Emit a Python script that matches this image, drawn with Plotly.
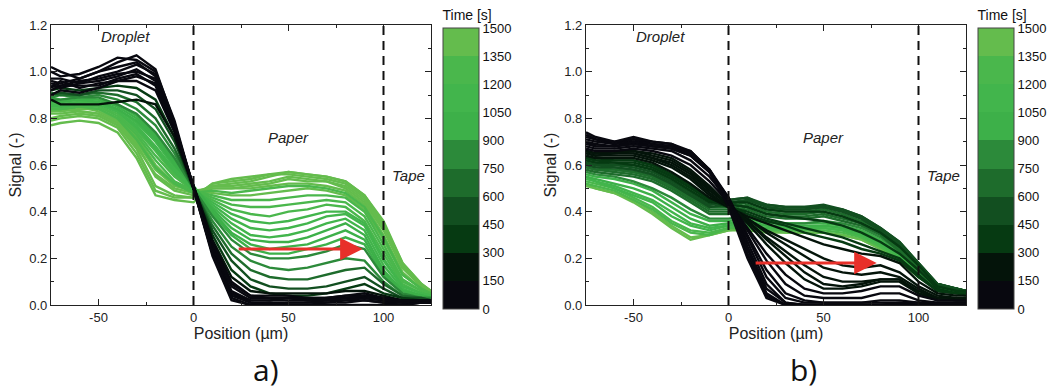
import plotly.graph_objects as go

# ---------------- data ----------------
positions = [-75, -70, -60, -50, -40, -30, -20, -10, 0, 10, 20, 30, 40, 50, 60, 70, 80, 90, 100, 110, 120, 125]

# panel a) : time [s] and signal profiles
times_a = [0, 15, 30, 45, 60, 80, 100, 120, 140, 200, 300, 450, 600, 750, 850, 900, 950, 1000, 1050, 1100,
           1150, 1200, 1250, 1300, 1330, 1350, 1380, 1400, 1420, 1460, 1480, 1500]
signals_a = [
    [1.02, 1.00, 0.97, 1.00, 1.04, 1.07, 1.01, 0.78, 0.50, 0.22, 0.03, 0.00, 0.00, 0.00, 0.00, 0.00, 0.00, 0.00, 0.00, 0.00, 0.01, 0.01],
    [1.00, 0.98, 0.99, 1.02, 1.06, 1.05, 1.00, 0.79, 0.50, 0.21, 0.02, 0.00, 0.01, 0.00, 0.00, 0.01, 0.01, 0.02, 0.01, 0.00, 0.01, 0.01],
    [0.97, 0.97, 0.95, 0.98, 1.00, 1.03, 0.99, 0.77, 0.50, 0.22, 0.04, 0.01, 0.00, 0.01, 0.01, 0.01, 0.02, 0.02, 0.01, 0.01, 0.01, 0.01],
    [0.96, 0.95, 0.97, 1.00, 1.02, 1.04, 0.98, 0.77, 0.51, 0.23, 0.05, 0.01, 0.01, 0.01, 0.01, 0.02, 0.02, 0.03, 0.02, 0.01, 0.01, 0.01],
    [0.95, 0.94, 0.96, 0.97, 0.99, 1.00, 0.97, 0.76, 0.50, 0.23, 0.05, 0.02, 0.02, 0.02, 0.02, 0.02, 0.03, 0.03, 0.02, 0.01, 0.01, 0.01],
    [0.94, 0.93, 0.95, 0.96, 0.98, 1.01, 0.96, 0.76, 0.50, 0.24, 0.06, 0.02, 0.02, 0.03, 0.02, 0.02, 0.03, 0.04, 0.02, 0.02, 0.01, 0.01],
    [0.93, 0.96, 0.93, 0.95, 0.96, 0.98, 0.95, 0.75, 0.51, 0.25, 0.08, 0.03, 0.03, 0.03, 0.02, 0.03, 0.03, 0.04, 0.03, 0.02, 0.02, 0.02],
    [0.92, 0.94, 0.94, 0.94, 0.97, 0.99, 0.94, 0.75, 0.51, 0.26, 0.09, 0.04, 0.03, 0.03, 0.03, 0.03, 0.04, 0.04, 0.03, 0.02, 0.02, 0.02],
    [0.90, 0.92, 0.91, 0.93, 0.96, 0.96, 0.92, 0.74, 0.51, 0.27, 0.10, 0.04, 0.04, 0.04, 0.03, 0.03, 0.04, 0.05, 0.03, 0.02, 0.02, 0.02],
    [0.88, 0.86, 0.86, 0.86, 0.87, 0.88, 0.86, 0.72, 0.51, 0.28, 0.12, 0.06, 0.05, 0.05, 0.05, 0.05, 0.06, 0.06, 0.04, 0.02, 0.02, 0.02],
    [0.92, 0.93, 0.92, 0.93, 0.94, 0.93, 0.88, 0.72, 0.50, 0.30, 0.15, 0.08, 0.05, 0.04, 0.04, 0.05, 0.07, 0.09, 0.05, 0.03, 0.02, 0.02],
    [0.90, 0.91, 0.90, 0.92, 0.92, 0.90, 0.84, 0.70, 0.50, 0.32, 0.19, 0.11, 0.08, 0.07, 0.07, 0.08, 0.10, 0.12, 0.07, 0.03, 0.03, 0.02],
    [0.91, 0.90, 0.90, 0.91, 0.90, 0.87, 0.80, 0.67, 0.50, 0.34, 0.22, 0.15, 0.12, 0.11, 0.11, 0.13, 0.15, 0.16, 0.09, 0.04, 0.03, 0.02],
    [0.89, 0.90, 0.89, 0.90, 0.88, 0.84, 0.77, 0.65, 0.50, 0.36, 0.25, 0.19, 0.16, 0.15, 0.16, 0.18, 0.20, 0.19, 0.10, 0.04, 0.03, 0.03],
    [0.88, 0.88, 0.89, 0.89, 0.86, 0.82, 0.74, 0.63, 0.50, 0.38, 0.28, 0.22, 0.20, 0.20, 0.21, 0.23, 0.26, 0.24, 0.12, 0.05, 0.03, 0.03],
    [0.89, 0.88, 0.89, 0.88, 0.86, 0.81, 0.73, 0.62, 0.51, 0.39, 0.30, 0.24, 0.22, 0.22, 0.24, 0.26, 0.29, 0.26, 0.13, 0.05, 0.04, 0.03],
    [0.87, 0.87, 0.88, 0.88, 0.85, 0.80, 0.72, 0.61, 0.50, 0.40, 0.31, 0.26, 0.24, 0.25, 0.26, 0.29, 0.32, 0.28, 0.14, 0.06, 0.04, 0.03],
    [0.88, 0.87, 0.88, 0.87, 0.84, 0.79, 0.71, 0.60, 0.51, 0.41, 0.33, 0.28, 0.27, 0.27, 0.29, 0.32, 0.35, 0.30, 0.15, 0.06, 0.04, 0.03],
    [0.86, 0.86, 0.87, 0.87, 0.84, 0.78, 0.70, 0.59, 0.50, 0.42, 0.35, 0.30, 0.29, 0.30, 0.32, 0.35, 0.37, 0.32, 0.17, 0.07, 0.04, 0.03],
    [0.86, 0.85, 0.86, 0.86, 0.83, 0.77, 0.68, 0.58, 0.50, 0.43, 0.37, 0.33, 0.32, 0.33, 0.35, 0.38, 0.39, 0.34, 0.19, 0.08, 0.05, 0.04],
    [0.85, 0.85, 0.86, 0.86, 0.83, 0.76, 0.67, 0.57, 0.49, 0.44, 0.39, 0.36, 0.35, 0.36, 0.38, 0.40, 0.40, 0.35, 0.20, 0.08, 0.05, 0.04],
    [0.86, 0.86, 0.87, 0.86, 0.83, 0.75, 0.66, 0.56, 0.49, 0.45, 0.41, 0.39, 0.38, 0.40, 0.41, 0.43, 0.42, 0.36, 0.22, 0.09, 0.05, 0.04],
    [0.84, 0.84, 0.85, 0.85, 0.82, 0.74, 0.64, 0.55, 0.49, 0.46, 0.43, 0.42, 0.42, 0.43, 0.44, 0.45, 0.44, 0.38, 0.24, 0.10, 0.06, 0.04],
    [0.85, 0.85, 0.86, 0.85, 0.81, 0.73, 0.62, 0.53, 0.49, 0.47, 0.45, 0.45, 0.45, 0.46, 0.47, 0.47, 0.46, 0.40, 0.26, 0.11, 0.06, 0.04],
    [0.84, 0.84, 0.85, 0.84, 0.80, 0.71, 0.59, 0.52, 0.48, 0.49, 0.48, 0.49, 0.50, 0.51, 0.51, 0.50, 0.48, 0.42, 0.29, 0.13, 0.07, 0.05],
    [0.83, 0.83, 0.84, 0.84, 0.80, 0.72, 0.60, 0.52, 0.49, 0.48, 0.47, 0.47, 0.48, 0.49, 0.50, 0.49, 0.47, 0.41, 0.28, 0.13, 0.07, 0.05],
    [0.84, 0.83, 0.85, 0.83, 0.79, 0.70, 0.58, 0.51, 0.49, 0.50, 0.50, 0.50, 0.51, 0.52, 0.52, 0.51, 0.49, 0.43, 0.30, 0.14, 0.07, 0.05],
    [0.83, 0.84, 0.83, 0.82, 0.78, 0.68, 0.56, 0.50, 0.48, 0.51, 0.51, 0.52, 0.53, 0.55, 0.54, 0.53, 0.51, 0.45, 0.33, 0.16, 0.08, 0.05],
    [0.82, 0.82, 0.83, 0.82, 0.78, 0.69, 0.55, 0.49, 0.47, 0.50, 0.50, 0.51, 0.52, 0.54, 0.53, 0.53, 0.50, 0.44, 0.32, 0.16, 0.08, 0.05],
    [0.80, 0.81, 0.82, 0.81, 0.77, 0.67, 0.51, 0.47, 0.46, 0.52, 0.53, 0.54, 0.56, 0.56, 0.55, 0.54, 0.52, 0.46, 0.34, 0.17, 0.08, 0.06],
    [0.79, 0.80, 0.81, 0.80, 0.76, 0.65, 0.49, 0.46, 0.46, 0.52, 0.54, 0.55, 0.56, 0.57, 0.56, 0.55, 0.53, 0.47, 0.35, 0.18, 0.09, 0.06],
    [0.77, 0.78, 0.79, 0.78, 0.74, 0.63, 0.47, 0.45, 0.44, 0.51, 0.52, 0.53, 0.55, 0.57, 0.56, 0.55, 0.53, 0.47, 0.36, 0.18, 0.09, 0.06],
]

# panel b) : time [s] and signal profiles
times_b = [0, 10, 25, 35, 50, 65, 80, 110, 140, 170, 190, 210, 230, 250, 290, 310, 330, 380, 430, 460, 500,
           540, 580, 620, 660, 700, 740, 850, 920, 1000, 1075, 1150, 1225, 1300, 1375, 1450]
signals_b = [
    [0.74, 0.72, 0.70, 0.72, 0.70, 0.69, 0.65, 0.57, 0.42, 0.20, 0.03, 0.00, 0.00, 0.00, 0.00, 0.00, 0.00, 0.00, 0.00, 0.00, 0.00, 0.00],
    [0.73, 0.71, 0.70, 0.71, 0.70, 0.69, 0.66, 0.58, 0.44, 0.22, 0.04, 0.00, 0.00, 0.00, 0.00, 0.00, 0.00, 0.00, 0.00, 0.00, 0.00, 0.00],
    [0.72, 0.71, 0.69, 0.71, 0.69, 0.68, 0.66, 0.58, 0.45, 0.24, 0.05, 0.00, 0.00, 0.00, 0.00, 0.00, 0.00, 0.00, 0.00, 0.00, 0.00, 0.00],
    [0.71, 0.70, 0.69, 0.70, 0.69, 0.68, 0.65, 0.57, 0.45, 0.25, 0.07, 0.01, 0.00, 0.00, 0.00, 0.00, 0.00, 0.00, 0.00, 0.00, 0.00, 0.00],
    [0.70, 0.69, 0.68, 0.70, 0.68, 0.68, 0.65, 0.58, 0.46, 0.27, 0.09, 0.01, 0.00, 0.00, 0.00, 0.00, 0.00, 0.01, 0.00, 0.00, 0.00, 0.00],
    [0.70, 0.68, 0.68, 0.69, 0.68, 0.67, 0.64, 0.57, 0.46, 0.29, 0.12, 0.03, 0.01, 0.01, 0.01, 0.01, 0.01, 0.01, 0.01, 0.00, 0.00, 0.00],
    [0.69, 0.68, 0.68, 0.69, 0.68, 0.67, 0.64, 0.57, 0.46, 0.30, 0.15, 0.05, 0.02, 0.01, 0.01, 0.01, 0.02, 0.02, 0.01, 0.01, 0.01, 0.01],
    [0.68, 0.67, 0.67, 0.68, 0.67, 0.66, 0.62, 0.55, 0.45, 0.32, 0.19, 0.09, 0.04, 0.03, 0.03, 0.03, 0.05, 0.05, 0.02, 0.01, 0.01, 0.01],
    [0.67, 0.66, 0.66, 0.67, 0.66, 0.64, 0.60, 0.53, 0.44, 0.33, 0.22, 0.13, 0.07, 0.05, 0.05, 0.06, 0.08, 0.08, 0.04, 0.02, 0.02, 0.02],
    [0.66, 0.65, 0.66, 0.66, 0.65, 0.63, 0.58, 0.51, 0.43, 0.35, 0.26, 0.18, 0.11, 0.07, 0.07, 0.08, 0.10, 0.10, 0.05, 0.02, 0.02, 0.02],
    [0.66, 0.65, 0.65, 0.66, 0.64, 0.62, 0.57, 0.50, 0.43, 0.36, 0.28, 0.21, 0.14, 0.09, 0.08, 0.09, 0.11, 0.11, 0.05, 0.03, 0.02, 0.02],
    [0.66, 0.65, 0.65, 0.65, 0.63, 0.61, 0.56, 0.49, 0.43, 0.36, 0.29, 0.23, 0.17, 0.12, 0.10, 0.10, 0.11, 0.11, 0.06, 0.03, 0.02, 0.02],
    [0.65, 0.64, 0.65, 0.65, 0.63, 0.60, 0.55, 0.48, 0.42, 0.37, 0.31, 0.26, 0.21, 0.16, 0.14, 0.13, 0.14, 0.12, 0.07, 0.03, 0.03, 0.02],
    [0.65, 0.64, 0.64, 0.64, 0.62, 0.59, 0.54, 0.47, 0.42, 0.37, 0.32, 0.28, 0.24, 0.20, 0.17, 0.16, 0.17, 0.14, 0.08, 0.04, 0.03, 0.03],
    [0.64, 0.63, 0.63, 0.63, 0.61, 0.57, 0.52, 0.46, 0.42, 0.38, 0.35, 0.32, 0.29, 0.26, 0.24, 0.22, 0.21, 0.18, 0.10, 0.05, 0.04, 0.04],
    [0.63, 0.63, 0.62, 0.62, 0.60, 0.56, 0.51, 0.45, 0.42, 0.39, 0.36, 0.34, 0.31, 0.29, 0.27, 0.24, 0.22, 0.19, 0.12, 0.06, 0.05, 0.04],
    [0.63, 0.62, 0.62, 0.62, 0.60, 0.56, 0.51, 0.45, 0.42, 0.40, 0.37, 0.35, 0.33, 0.31, 0.29, 0.26, 0.23, 0.20, 0.13, 0.06, 0.05, 0.05],
    [0.63, 0.62, 0.61, 0.61, 0.59, 0.55, 0.50, 0.45, 0.43, 0.42, 0.39, 0.38, 0.37, 0.36, 0.34, 0.31, 0.27, 0.22, 0.15, 0.07, 0.05, 0.05],
    [0.62, 0.61, 0.61, 0.60, 0.58, 0.54, 0.49, 0.44, 0.44, 0.44, 0.41, 0.40, 0.40, 0.40, 0.38, 0.35, 0.31, 0.25, 0.17, 0.08, 0.06, 0.06],
    [0.62, 0.61, 0.60, 0.60, 0.58, 0.54, 0.49, 0.44, 0.45, 0.46, 0.42, 0.41, 0.41, 0.42, 0.40, 0.37, 0.32, 0.26, 0.18, 0.09, 0.06, 0.06],
    [0.61, 0.60, 0.60, 0.59, 0.57, 0.53, 0.48, 0.43, 0.45, 0.46, 0.43, 0.42, 0.42, 0.43, 0.41, 0.38, 0.33, 0.27, 0.18, 0.09, 0.07, 0.06],
    [0.61, 0.60, 0.59, 0.58, 0.56, 0.52, 0.47, 0.43, 0.44, 0.45, 0.43, 0.42, 0.42, 0.42, 0.41, 0.38, 0.33, 0.27, 0.18, 0.09, 0.07, 0.06],
    [0.60, 0.59, 0.59, 0.58, 0.56, 0.52, 0.47, 0.42, 0.43, 0.45, 0.42, 0.41, 0.41, 0.42, 0.40, 0.37, 0.32, 0.26, 0.17, 0.09, 0.07, 0.06],
    [0.60, 0.59, 0.58, 0.57, 0.55, 0.51, 0.46, 0.42, 0.42, 0.44, 0.41, 0.40, 0.40, 0.41, 0.39, 0.36, 0.32, 0.25, 0.17, 0.09, 0.07, 0.06],
    [0.59, 0.58, 0.58, 0.57, 0.55, 0.51, 0.46, 0.41, 0.41, 0.43, 0.40, 0.39, 0.39, 0.40, 0.38, 0.35, 0.31, 0.24, 0.16, 0.08, 0.07, 0.06],
    [0.59, 0.58, 0.57, 0.56, 0.54, 0.50, 0.45, 0.40, 0.40, 0.42, 0.39, 0.38, 0.38, 0.39, 0.37, 0.35, 0.31, 0.24, 0.16, 0.08, 0.07, 0.06],
    [0.58, 0.57, 0.56, 0.55, 0.53, 0.49, 0.44, 0.39, 0.39, 0.41, 0.38, 0.37, 0.37, 0.38, 0.36, 0.34, 0.30, 0.23, 0.15, 0.08, 0.07, 0.06],
    [0.57, 0.56, 0.55, 0.53, 0.50, 0.46, 0.41, 0.37, 0.37, 0.38, 0.36, 0.35, 0.35, 0.36, 0.35, 0.33, 0.29, 0.23, 0.14, 0.08, 0.06, 0.06],
    [0.56, 0.55, 0.54, 0.52, 0.49, 0.44, 0.39, 0.36, 0.36, 0.37, 0.35, 0.35, 0.35, 0.35, 0.34, 0.32, 0.28, 0.22, 0.14, 0.08, 0.06, 0.06],
    [0.55, 0.54, 0.52, 0.50, 0.47, 0.42, 0.37, 0.34, 0.35, 0.36, 0.34, 0.34, 0.34, 0.34, 0.33, 0.31, 0.27, 0.22, 0.14, 0.07, 0.06, 0.06],
    [0.55, 0.53, 0.51, 0.48, 0.45, 0.40, 0.35, 0.33, 0.34, 0.35, 0.34, 0.33, 0.33, 0.34, 0.33, 0.30, 0.26, 0.21, 0.13, 0.07, 0.06, 0.06],
    [0.54, 0.53, 0.50, 0.47, 0.44, 0.38, 0.34, 0.32, 0.34, 0.34, 0.33, 0.33, 0.33, 0.33, 0.32, 0.30, 0.26, 0.21, 0.13, 0.07, 0.06, 0.06],
    [0.53, 0.52, 0.50, 0.46, 0.42, 0.36, 0.32, 0.31, 0.33, 0.34, 0.33, 0.32, 0.32, 0.33, 0.32, 0.29, 0.25, 0.20, 0.12, 0.07, 0.06, 0.05],
    [0.52, 0.51, 0.49, 0.45, 0.41, 0.35, 0.31, 0.30, 0.33, 0.33, 0.32, 0.32, 0.32, 0.32, 0.31, 0.29, 0.25, 0.20, 0.12, 0.07, 0.06, 0.05],
    [0.52, 0.50, 0.48, 0.45, 0.40, 0.34, 0.29, 0.30, 0.32, 0.33, 0.32, 0.31, 0.31, 0.31, 0.30, 0.28, 0.24, 0.19, 0.12, 0.07, 0.06, 0.05],
    [0.51, 0.50, 0.48, 0.44, 0.39, 0.33, 0.28, 0.30, 0.32, 0.32, 0.31, 0.31, 0.31, 0.31, 0.30, 0.28, 0.24, 0.19, 0.12, 0.07, 0.06, 0.05],
]

x_ticks = [-50, 0, 50, 100]
x_tick_labels = ["-50", "0", "50", "100"]
time_ticks = [0, 150, 300, 450, 600, 750, 900, 1050, 1200, 1350, 1500]
bin_colors = ["#08080f", "#04140a", "#063a12", "#124f20", "#1e6c2c",
              "#2c8a3a", "#3db049", "#42b54c", "#4ab74c", "#64bc4d"]

# ---------------- styling ----------------
W, H = 1061, 389
FONT = "Liberation Sans, Arial, sans-serif"
TMAX = 1500.0


def fx(px):
    return px / W


def fy(py):
    return 1 - py / H


def color_for(t):
    i = min(int(t // 150), len(bin_colors) - 1)
    return bin_colors[i]


colorscale = []
nb = len(bin_colors)
for i, c in enumerate(bin_colors):
    colorscale.append([i / nb, c])
    colorscale.append([(i + 1) / nb, c])

fig = go.Figure()


def add_panel(times, signals, xa, ya, cb_left):
    order = sorted(range(len(times)), key=lambda k: -times[k])
    for k in order:
        fig.add_trace(go.Scatter(
            x=positions, y=signals[k], mode="lines",
            line=dict(color=color_for(times[k]), width=2.4),
            xaxis=xa, yaxis=ya, showlegend=False, hoverinfo="skip"))
    fig.add_trace(go.Scatter(
        x=[0], y=[-5], mode="markers", xaxis=xa, yaxis=ya,
        showlegend=False, hoverinfo="skip",
        marker=dict(color=[0], cmin=0, cmax=TMAX, colorscale=colorscale,
                    showscale=True, size=1,
                    colorbar=dict(
                        x=fx(cb_left), xanchor="left", xpad=0,
                        y=fy(309), yanchor="bottom", ypad=0,
                        len=302, lenmode="pixels",
                        thickness=36, thicknessmode="pixels",
                        outlinewidth=1, outlinecolor="#444",
                        ticks="", tickvals=time_ticks,
                        ticktext=[str(v) for v in time_ticks],
                        tickfont=dict(size=13, family=FONT, color="#111"),
                        title=dict(text="Time [s]", side="top",
                                   font=dict(size=14, family=FONT, color="#111")),
                    ))))


add_panel(times_a, signals_a, "x", "y", 443)
add_panel(times_b, signals_b, "x2", "y2", 978)

axis_common = dict(showgrid=False, zeroline=False, showline=True, linecolor="#222",
                   linewidth=1.2, mirror="allticks", ticks="inside", ticklen=6,
                   tickcolor="#222", automargin=False,
                   tickfont=dict(size=13, family=FONT, color="#222"))

xcommon = dict(axis_common, range=[-75, 125], tickmode="array", tickvals=x_ticks, ticktext=x_tick_labels,
               minor=dict(ticks="inside", ticklen=3, dtick=25, tick0=0, tickcolor="#222"),
               title=dict(text="Position (µm)", font=dict(size=16, family=FONT, color="#222"), standoff=1))
ycommon = dict(axis_common, range=[0, 1.2], dtick=0.2, tickformat=".1f",
               minor=dict(ticks="inside", ticklen=3, dtick=0.1, tickcolor="#222"),
               title=dict(text="Signal (-)", font=dict(size=16, family=FONT, color="#222"), standoff=3))

fig.update_layout(
    width=W, height=H, margin=dict(l=0, r=0, t=0, b=0, autoexpand=False),
    paper_bgcolor="white", plot_bgcolor="white",
    xaxis=dict(xcommon, domain=[fx(51), fx(431)], anchor="y"),
    yaxis=dict(ycommon, domain=[fy(305), fy(25)], anchor="x"),
    xaxis2=dict(xcommon, domain=[fx(586), fx(966)], anchor="y2"),
    yaxis2=dict(ycommon, domain=[fy(305), fy(25)], anchor="x2"),
)

shapes = []
for xr, yr in [("x", "y"), ("x2", "y2")]:
    for xv in [0, 100]:
        shapes.append(dict(type="line", xref=xr, yref=yr, x0=xv, x1=xv, y0=0, y1=1.2,
                           line=dict(color="#111", width=2, dash="9px,6px")))
fig.update_layout(shapes=shapes)

annots = []
for xr, yr, arrow in [("x", "y", (23, 89, 0.24)), ("x2", "y2", (13.5, 78, 0.18))]:
    lab_font = dict(size=15, family=FONT, color="#222")
    annots.append(dict(x=-36, y=1.15, xref=xr, yref=yr, text="<i>Droplet</i>", showarrow=False, font=lab_font))
    annots.append(dict(x=50, y=0.72, xref=xr, yref=yr, text="<i>Paper</i>", showarrow=False, font=lab_font))
    annots.append(dict(x=113, y=0.557, xref=xr, yref=yr, text="<i>Tape</i>", showarrow=False, font=lab_font))
    x0, x1, ya = arrow
    annots.append(dict(x=x1, y=ya, ax=x0, ay=ya, xref=xr, yref=yr, axref=xr, ayref=yr,
                       text="", showarrow=True, arrowhead=2, arrowsize=1.5, arrowwidth=3,
                       arrowcolor="#e8302a"))

for lbl, px in [("a)", 266), ("b)", 803)]:
    annots.append(dict(x=fx(px), y=fy(369), xref="paper", yref="paper", text=lbl, showarrow=False,
                       xanchor="center", yanchor="middle",
                       font=dict(size=30, family="Open Sans, sans-serif", color="#111")))
fig.update_layout(annotations=annots)

fig.write_html("out.html", config={"displayModeBar": False},
               post_script="document.body.style.margin='0';")
